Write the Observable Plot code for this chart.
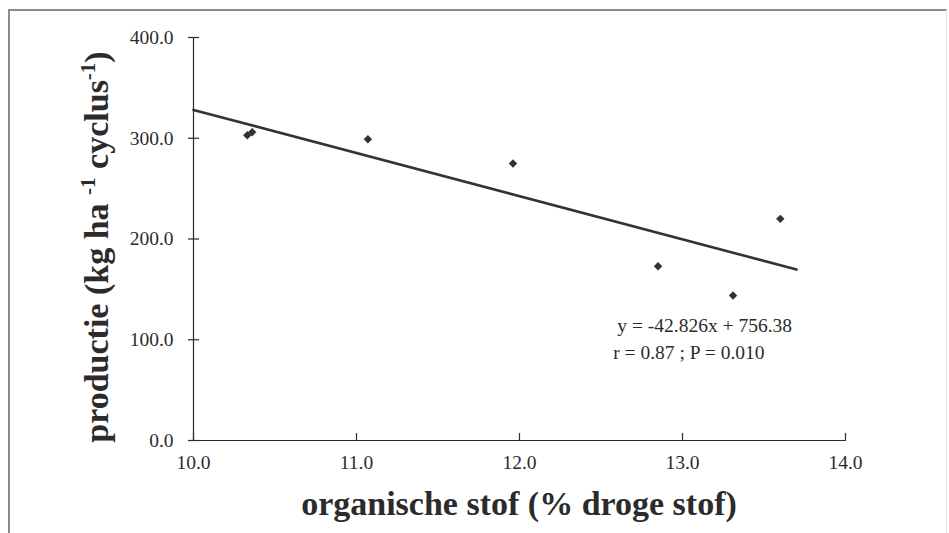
<!DOCTYPE html>
<html><head><meta charset="utf-8">
<script src="https://cdn.jsdelivr.net/npm/d3@7"></script>
<script src="https://cdn.jsdelivr.net/npm/@observablehq/plot@0.6"></script>
<style>
body{margin:0;background:#fff;}
#chart{position:relative;width:949px;height:533px;overflow:hidden;}
#frame{position:absolute;left:8px;top:9px;width:936px;height:540px;border-left:2px solid #8a8a8a;border-top:2px solid #8a8a8a;border-right:1px solid #e4e4e4;}
svg{position:absolute;left:0;top:0;}
</style>
</head><body><div id="chart"><div id="frame"></div></div>
<script>
// data
const orgStof   = [10.33, 10.36, 11.07, 11.96, 12.85, 13.31, 13.60];
const productie = [303, 306, 299, 275, 173, 144, 220];
const xTicks = [10, 11, 12, 13, 14];
const yTicks = [0, 100, 200, 300, 400];
const slope = -42.826, intercept = 756.38;
const fitRange = [10.0, 13.7];
const eqLines = ["y = -42.826x + 756.38", "r = 0.87 ; P = 0.010"];
const eqX = [12.6, 12.575];
const eqY = [114, 87];
const xLabel = "organische stof (% droge stof)";

const points = orgStof.map((x, i) => ({x, y: productie[i]}));
const fit = fitRange.map(x => ({x, y: slope * x + intercept}));
const eq = eqLines.map((t, i) => ({t, x: eqX[i], y: eqY[i]}));

const serif = "'Liberation Serif', 'Times New Roman', serif";
const ink = "#2b2b2b";

const plot = Plot.plot({
  width: 949, height: 533,
  marginLeft: 193, marginRight: 104, marginTop: 37, marginBottom: 93,
  style: {fontFamily: serif, background: "transparent", color: ink},
  x: {domain: [10, 14]},
  y: {domain: [0, 400]},
  marks: [
    Plot.axisX(xTicks, {tickSize: 0, tickPadding: 15, fontSize: 19.5, tickFormat: d => d.toFixed(1), label: null}),
    Plot.axisY(yTicks, {tickSize: 0, tickPadding: 20, fontSize: 19.5, tickFormat: d => d.toFixed(1), label: null}),
    Plot.ruleX([10], {y1: 0, y2: 400, stroke: ink, strokeWidth: 1.2}),
    Plot.ruleY([0], {x1: 10, x2: 14, stroke: ink, strokeWidth: 1.2}),
    Plot.ruleY(yTicks, {y: d => d, x1: 10, x2: 10, insetLeft: -5, insetRight: -6, stroke: ink, strokeWidth: 1.2}),
    Plot.ruleX(xTicks, {x: d => d, y1: 0, y2: 0, insetTop: -7, insetBottom: -1, stroke: ink, strokeWidth: 1.2}),
    Plot.line(fit, {x: "x", y: "y", stroke: "#333", strokeWidth: 2.6}),
    Plot.dot(points, {x: "x", y: "y", symbol: "diamond2", r: 3.8, fill: "#333", stroke: "none"}),
    Plot.text(eq, {x: "x", y: "y", text: "t", textAnchor: "start", fontSize: 19.5, fill: ink})
  ]
});
document.getElementById("chart").appendChild(plot);

const svg = d3.select(plot);
const yl = svg.append("text")
  .attr("transform", "translate(108,247) rotate(-90)")
  .attr("text-anchor", "middle")
  .attr("fill", ink)
  .style("font-family", serif).style("font-weight", "bold").style("font-size", "34px");
yl.append("tspan").text("productie (kg ha ");
yl.append("tspan").attr("dy", -13).style("font-size", "21px").text("-1");
yl.append("tspan").attr("dy", 13).text(" cyclus");
yl.append("tspan").attr("dy", -13).style("font-size", "21px").text("-1");
yl.append("tspan").attr("dy", 13).text(")");

svg.append("text")
  .attr("x", 519).attr("y", 515)
  .attr("text-anchor", "middle")
  .attr("fill", ink)
  .style("font-family", serif).style("font-weight", "bold").style("font-size", "34px")
  .text(xLabel);
</script>
</body></html>
